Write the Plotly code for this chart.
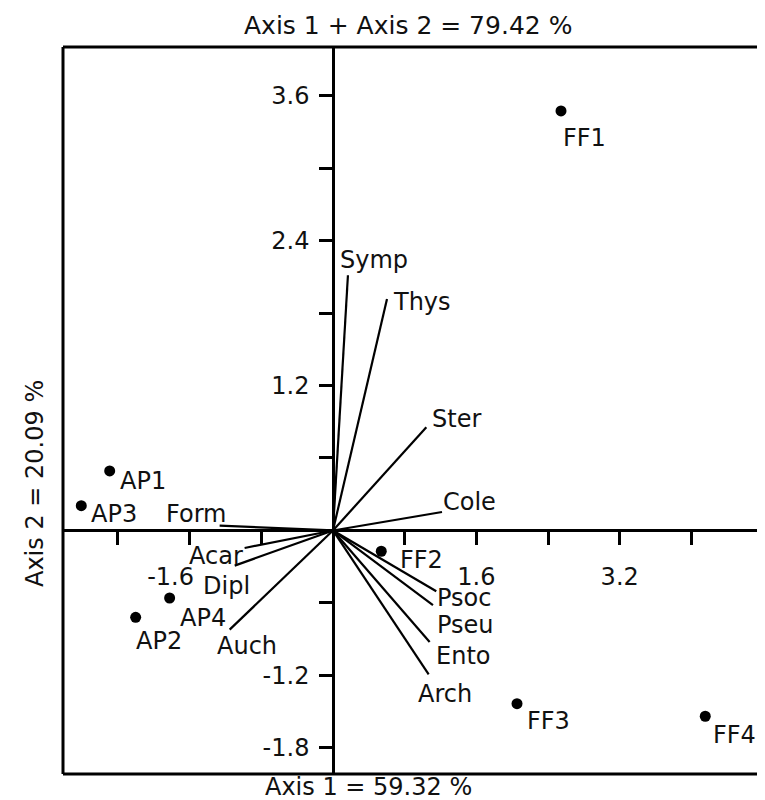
import plotly.graph_objects as go

# Sample scores (axis 1, axis 2)
sites = ["FF1", "AP1", "AP3", "AP4", "AP2", "FF2", "FF3", "FF4"]
site_x = [2.545, -2.492, -2.809, -1.823, -2.202, 0.539, 2.054, 4.155]
site_y = [3.473, 0.493, 0.205, -0.559, -0.719, -0.172, -1.434, -1.538]

# Taxa loadings (vector tips)
taxa = ["Symp", "Thys", "Ster", "Cole", "Form", "Acar", "Dipl", "Auch",
        "Psoc", "Pseu", "Ento", "Arch"]
taxa_x = [0.167, 0.603, 1.042, 1.217, -1.265, -0.986, -1.097, -1.153,
          1.153, 1.116, 1.079, 1.068]
taxa_y = [2.113, 1.916, 0.854, 0.153, 0.040, -0.145, -0.291, -0.821,
          -0.503, -0.618, -0.923, -1.192]

# Tick labels
x_tickvals = [-2.4, -1.6, -0.8, 0.8, 1.6, 2.4, 3.2, 4.0]
x_ticktext = ["", "-1.6" + "\u00a0" * 5, "", "", "1.6", "", "3.2", ""]
y_tickvals = [-1.8, -1.2, -0.6, 0.6, 1.2, 1.8, 2.4, 3.0, 3.6]
y_ticktext = ["-1.8", "-1.2", "", "", "1.2", "", "2.4", "", "3.6"]

# Label placement (pixel offsets from the point, anchor)
site_shift = [(0, -27, "left"), (8, -10, "left"), (8, -8, "left"), (8, -20, "left"),
              (-2, -24, "left"), (17, -9, "left"), (8, -17, "left"), (6, -19, "left")]
taxa_shift = [(-10, 15, "left"), (4, -3, "left"), (4, 8, "left"), (-1, 10, "left"),
              (8, 12, "right"), (0, -8, "right"), (-34, -20, "left"), (-15, -16, "left"),
              (-1, -7, "left"), (2, -20, "left"), (4, -14, "left"), (-13, -20, "left")]

W, H = 765, 800
ML, MR, MT, MB = 55, 0, 39, 34
x_range = [-3.013, 4.911]
y_range = [-2.016, 4.002]

font = dict(family="DejaVu Sans", size=24, color="#111111")

# vectors from origin
vx, vy = [], []
for tx, ty in zip(taxa_x, taxa_y):
    vx += [0, tx, None]
    vy += [0, ty, None]

fig = go.Figure()
fig.add_trace(go.Scatter(x=vx, y=vy, mode="lines",
                         line=dict(color="black", width=2.2),
                         hoverinfo="skip", showlegend=False))
fig.add_trace(go.Scatter(x=site_x, y=site_y, mode="markers", text=sites,
                         marker=dict(color="black", size=11),
                         showlegend=False))

annotations = []
for name, x, y, (dx, dy, anc) in zip(sites, site_x, site_y, site_shift):
    annotations.append(dict(x=x, y=y, text=name, showarrow=False, xanchor=anc,
                            yanchor="middle", xshift=dx, yshift=dy, font=font))
for name, x, y, (dx, dy, anc) in zip(taxa, taxa_x, taxa_y, taxa_shift):
    annotations.append(dict(x=x, y=y, text=name, showarrow=False, xanchor=anc,
                            yanchor="middle", xshift=dx, yshift=dy, font=font))

pw, ph = W - ML - MR, H - MT - MB
annotations += [
    dict(xref="paper", yref="paper", x=(400 - ML) / pw, y=1 + (MT - 18) / ph,
         text="Axis 1 + Axis 2 = 79.42 %", showarrow=False,
         font=dict(font, size=25), xanchor="center", yanchor="middle"),
    dict(xref="paper", yref="paper", x=(360 - ML) / pw, y=-(794 - (H - MB)) / ph,
         text="Axis 1 = 59.32 %", showarrow=False, font=font, borderpad=0,
         xanchor="center", yanchor="bottom"),
    dict(xref="paper", yref="paper", x=(27 - ML) / pw, y=((H - MB) - 476) / ph,
         text="Axis 2 = 20.09 %", showarrow=False, font=font, textangle=-90,
         xanchor="center", yanchor="middle"),
]

# open frame: left, top, bottom
frame = dict(color="black", width=3)
shapes = [
    dict(type="line", xref="paper", yref="paper", x0=0, x1=0, y0=0, y1=1, line=frame),
    dict(type="line", xref="paper", yref="paper", x0=0, x1=1.01, y0=1, y1=1, line=frame),
    dict(type="line", xref="paper", yref="paper", x0=0, x1=1.01, y0=0, y1=0, line=frame),
]

fig.update_layout(
    width=W, height=H,
    margin=dict(l=ML, r=MR, t=MT, b=MB),
    plot_bgcolor="white", paper_bgcolor="white",
    font=font,
    annotations=annotations,
    shapes=shapes,
    xaxis=dict(range=x_range, anchor="free",
               position=(0 - y_range[0]) / (y_range[1] - y_range[0]),
               showline=True, linecolor="black", linewidth=2.5,
               ticks="outside", ticklen=13, tickwidth=2.5, tickcolor="black",
               tickvals=x_tickvals, ticktext=x_ticktext, ticklabelstandoff=11,
               showgrid=False, zeroline=False, tickfont=font),
    yaxis=dict(range=y_range, anchor="free",
               position=(0 - x_range[0]) / (x_range[1] - x_range[0]),
               showline=True, linecolor="black", linewidth=2.5,
               ticks="outside", ticklen=13, tickwidth=2.5, tickcolor="black",
               tickvals=y_tickvals, ticktext=y_ticktext, ticklabelstandoff=5,
               showgrid=False, zeroline=False, tickfont=font),
)

fig.write_html("out.html")
